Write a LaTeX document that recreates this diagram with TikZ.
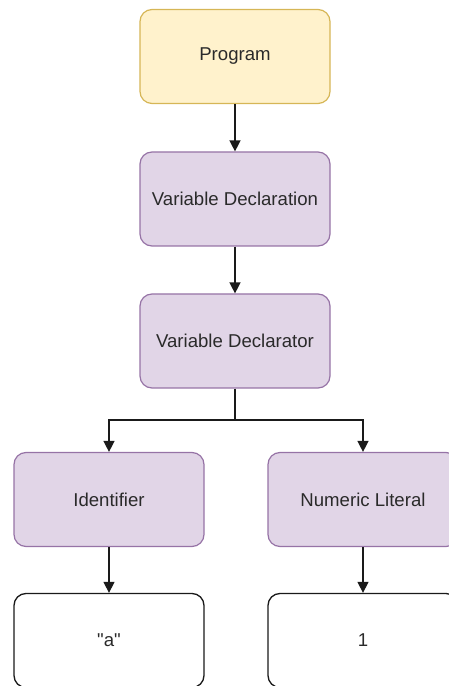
\documentclass[tikz,border=0pt]{standalone}
\usepackage{fontspec}
\setmainfont{Liberation Sans}[Ligatures=TeXOff]
\usetikzlibrary{arrows.meta}

\definecolor{progfill}{HTML}{FFF2CC}
\definecolor{progline}{HTML}{D6B656}
\definecolor{astfill}{HTML}{E1D5E7}
\definecolor{astline}{HTML}{9673A6}
\definecolor{inktext}{HTML}{2A2A2A}
\definecolor{ink}{HTML}{1A1A1A}

\tikzset{
  x=1pt, y=1pt,
  box/.style={rectangle, rounded corners=12pt, minimum width=190pt, minimum height=94pt,
    inner sep=0pt, text=inktext, font=\fontsize{18.6}{22}\selectfont, line width=1.2pt},
  progbox/.style={box, fill=progfill, draw=progline},
  astbox/.style={box, fill=astfill, draw=astline},
  leafbox/.style={box, fill=white, draw=ink, line width=1.3pt},
  link/.style={draw=ink, line width=1.4pt, -{Triangle[width=11pt,length=11pt]}},
}

\begin{document}
\begin{tikzpicture}
\useasboundingbox (0,0) rectangle (448,686);

\node[progbox] (prog) at (235,629.5) {Program};
\node[astbox]  (vdecl) at (235,487) {Variable Declaration};
\node[astbox]  (vdtor) at (235,345) {Variable Declarator};
\node[astbox]  (ident) at (109,186.5) {Identifier};
\node[astbox]  (numlit) at (363,186.5) {Numeric Literal};
\node[leafbox] (vala) at (109,45.5) {"a"};
\node[leafbox] (val1) at (363,45.5) {1};

\coordinate (fork) at (235,266);

\draw[link] (prog) -- (vdecl);
\draw[link] (vdecl) -- (vdtor);
\draw[draw=ink, line width=1.4pt] (vdtor.south) -- (fork);
\draw[link] (fork) -| (ident.north);
\draw[link] (fork) -| (numlit.north);
\draw[link] (ident) -- (vala);
\draw[link] (numlit) -- (val1);
\end{tikzpicture}
\end{document}
